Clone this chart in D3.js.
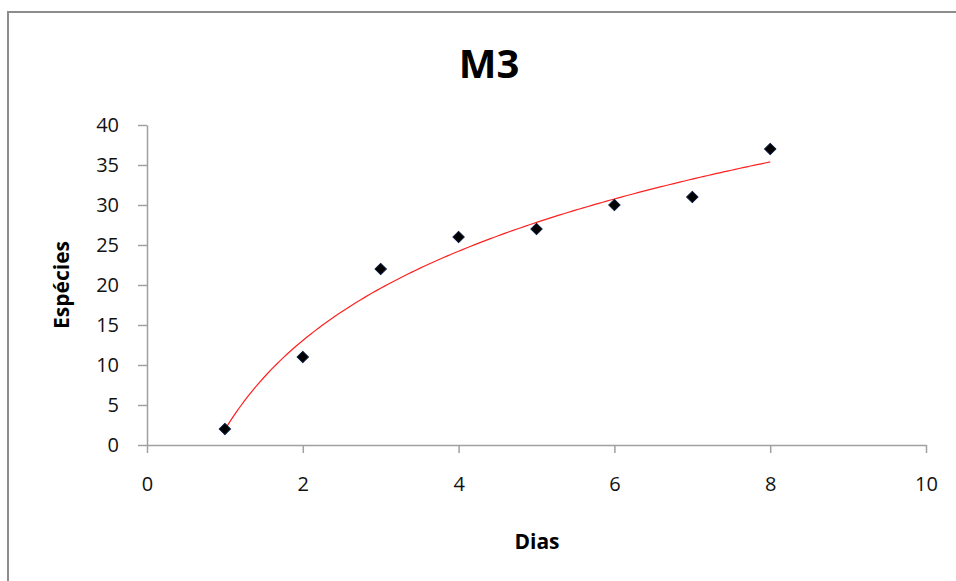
<!DOCTYPE html>
<html><head><meta charset="utf-8">
<script src="https://cdn.jsdelivr.net/npm/d3@7"></script>
<style>body{margin:0;background:#fff;}svg{display:block;}</style>
</head><body>
<script>
const dias = [1, 2, 3, 4, 5, 6, 7, 8];
const especies = [2, 11, 22, 26, 27, 30, 31, 37];
const xTicks = [0, 2, 4, 6, 8, 10];
const yTicks = [0, 5, 10, 15, 20, 25, 30, 35, 40];
const title = "M3";
const xTitle = "Dias";
const yTitle = "Espécies";

const W = 956, H = 581;
const svg = d3.select("body").append("svg").attr("width", W).attr("height", H);
const font = "'Open Sans', 'Noto Sans', sans-serif";

// outer chart frame
svg.append("rect").attr("x", 8).attr("y", 12).attr("width", 960).attr("height", 600)
  .attr("fill", "#fff").attr("stroke", "#8c8c8c").attr("stroke-width", 2);

const x = d3.scaleLinear().domain([0, 10]).range([147, 926]);
const y = d3.scaleLinear().domain([0, 40]).range([445, 125]);

// axes
const axisColor = "#a0a0a0";
const gx = svg.append("g").attr("transform", `translate(0,${y(0)})`)
  .call(d3.axisBottom(x).tickValues(xTicks).tickSize(8).tickPadding(24).tickSizeOuter(0));
const gy = svg.append("g").attr("transform", `translate(${x(0)},0)`)
  .call(d3.axisLeft(y).tickValues(yTicks).tickSize(9).tickPadding(19).tickSizeOuter(0));
[gx, gy].forEach(g => {
  g.select(".domain").attr("stroke", axisColor).attr("stroke-width", 1.5);
  g.selectAll(".tick line").attr("stroke", axisColor).attr("stroke-width", 1.5);
  g.selectAll(".tick text").attr("fill", "#111").style("font-family", font).style("font-size", "20px");
});

// logarithmic trendline computed by least squares from the data
const lx = dias.map(Math.log);
const mx = d3.mean(lx), my = d3.mean(especies);
const a = d3.sum(lx, (v, i) => (v - mx) * (especies[i] - my)) / d3.sum(lx, v => (v - mx) ** 2);
const b = my - a * mx;
const trend = d3.range(0, 141).map(i => {
  const xv = 1 + i * 0.05;
  return [xv, a * Math.log(xv) + b];
});
svg.append("path").datum(trend)
  .attr("d", d3.line().x(d => x(d[0])).y(d => y(d[1])))
  .attr("fill", "none").attr("stroke", "#ff2020").attr("stroke-width", 1.2);

// markers
svg.selectAll(".pt").data(dias).enter().append("path")
  .attr("transform", (d, i) => `translate(${x(d)},${y(especies[i])}) rotate(45)`)
  .attr("d", "M-4,-4H4V4H-4Z")
  .attr("fill", "#000").attr("stroke", "#0a1a40").attr("stroke-width", 1);

// titles
svg.append("text").attr("x", 489).attr("y", 78).attr("text-anchor", "middle")
  .style("font-family", font).style("font-weight", "bold").style("font-size", "40px").text(title);
svg.append("text").attr("x", 537).attr("y", 549).attr("text-anchor", "middle")
  .style("font-family", font).style("font-weight", "bold").style("font-size", "21px").text(xTitle);
svg.append("text").attr("transform", "translate(69,285) rotate(-90)").attr("text-anchor", "middle")
  .style("font-family", font).style("font-weight", "bold").style("font-size", "21px").text(yTitle);
</script>
</body></html>
